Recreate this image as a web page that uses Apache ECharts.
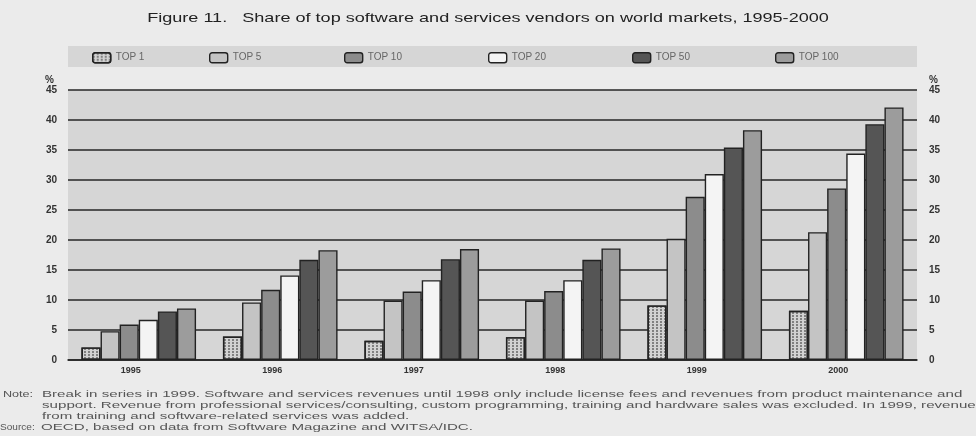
<!DOCTYPE html>
<html>
<head>
<meta charset="utf-8">
<script src="https://cdn.jsdelivr.net/npm/echarts@6/dist/echarts.min.js"></script>
<style>
html,body{margin:0;padding:0;background:#ebebeb;}
#c{width:976px;height:436px;}
</style>
</head>
<body>
<div id="c"></div>
<script>
var years = ['1995','1996','1997','1998','1999','2000'];
var seriesNames = ['TOP 1','TOP 5','TOP 10','TOP 20','TOP 50','TOP 100'];
var top1   = [2.1, 3.9, 3.2, 3.8, 9.1, 8.2];
var top5   = [4.8, 9.6, 9.9, 9.9, 20.2, 21.3];
var top10  = [5.9, 11.7, 11.4, 11.5, 27.2, 28.6];
var top20  = [6.7, 14.1, 13.3, 13.3, 31.0, 34.4];
var top50  = [8.1, 16.7, 16.8, 16.7, 35.4, 39.3];
var top100 = [8.6, 18.3, 18.5, 18.6, 38.3, 42.1];
var yTicks = [0,5,10,15,20,25,30,35,40,45];
var titleText = 'Figure 11.   Share of top software and services vendors on world markets, 1995-2000';
var noteLines = [
  'Break in series in 1999. Software and services revenues until 1998 only include license fees and revenues from product maintenance and',
  'support. Revenue from professional services/consulting, custom programming, training and hardware sales was excluded. In 1999, revenue',
  'from training and software-related services was added.'
];
var sourceText = 'OECD, based on data from Software Magazine and WITSA/IDC.';

var allData = [top1, top5, top10, top20, top50, top100];
var colors = ['#d2d2d2','#c4c4c4','#8c8c8c','#f4f4f4','#555555','#9c9c9c'];
var legendLeft = [92, 209, 344, 488, 632, 775];

var chart = echarts.init(document.getElementById('c'), null, {renderer:'canvas'});

var series = allData.map(function(d, i){
  var s = {
    name: seriesNames[i],
    type: 'bar',
    data: d,
    barGap: '0%',
    barCategoryGap: '19%',
    itemStyle: {color: colors[i], borderColor: '#222', borderWidth: 1.4}
  };
  if (i === 0) {
    s.itemStyle.decal = {symbol:'rect', symbolSize:0.8, color:'#4a4a4a', dashArrayX:[2,2], dashArrayY:[2,1], rotation:0};
  }
  return s;
});

var legends = seriesNames.map(function(n, i){
  return {
    data: [n],
    left: legendLeft[i],
    top: 52,
    padding: 0,
    itemWidth: 18,
    itemHeight: 10,
    itemGap: 6,
    textStyle: {fontFamily: 'Liberation Sans', fontSize: 10, color: '#666'},
    itemStyle: {borderColor: '#222', borderWidth: 1.4},
    selectedMode: false
  };
});

var axisLabelStyle = {fontFamily: 'Liberation Sans', fontSize: 10, color: '#333', fontWeight: 'bold'};

var graphics = [
  {type:'rect', left:68, top:46, shape:{width:849, height:21}, style:{fill:'#d6d6d6'}, z:-1},
  {type:'text', x:488, y:18, scaleX:1.39, style:{text:titleText, font:'13px Liberation Sans', fill:'#222', align:'center', verticalAlign:'middle'}}
];
graphics.push({type:'text', x:3, y:395, scaleX:1.4, style:{text:'Note:', font:'9px Liberation Sans', fill:'#555', verticalAlign:'middle'}});
noteLines.forEach(function(t, i){
  graphics.push({type:'text', x:42, y:395 + i*11, scaleX:1.68, style:{text:t, font:'9px Liberation Sans', fill:'#555', verticalAlign:'middle'}});
});
graphics.push({type:'text', x:0, y:428, scaleX:1.12, style:{text:'Source:', font:'9px Liberation Sans', fill:'#555', verticalAlign:'middle'}});
graphics.push({type:'text', x:41, y:428, scaleX:1.68, style:{text:sourceText, font:'9px Liberation Sans', fill:'#555', verticalAlign:'middle'}});

chart.setOption({
  backgroundColor: '#ebebeb',
  animation: false,
  legend: legends,
  grid: {left: 68, right: 59, top: 90, bottom: 76, show: true, backgroundColor: '#d6d6d6', borderWidth: 0},
  xAxis: {
    type: 'category',
    data: years,
    axisTick: {show: false},
    axisLine: {lineStyle: {color: '#222', width: 1.5}},
    axisLabel: {fontFamily: 'Liberation Sans', fontSize: 9, color: '#333', fontWeight: 'bold', margin: 6, padding: [0, 16, 0, 0]}
  },
  yAxis: [
    {
      type: 'value', min: 0, max: 45, interval: 5,
      name: '%', nameLocation: 'end', nameGap: 4,
      nameTextStyle: {fontFamily: 'Liberation Sans', fontSize: 10, fontWeight: 'bold', color: '#333', align: 'right', padding: [0, 14, 0, 0]},
      axisLine: {show: false}, axisTick: {show: false},
      axisLabel: Object.assign({margin: 11}, axisLabelStyle),
      splitLine: {show: true, lineStyle: {color: '#262626', width: 1.6}}
    },
    {
      type: 'value', min: 0, max: 45, interval: 5, position: 'right',
      name: '%', nameLocation: 'end', nameGap: 4,
      nameTextStyle: {fontFamily: 'Liberation Sans', fontSize: 10, fontWeight: 'bold', color: '#333', align: 'left', padding: [0, 0, 0, 12]},
      axisLine: {show: false}, axisTick: {show: false},
      axisLabel: Object.assign({margin: 12}, axisLabelStyle),
      splitLine: {show: false}
    }
  ],
  series: series,
  graphic: graphics
});
</script>
</body>
</html>
